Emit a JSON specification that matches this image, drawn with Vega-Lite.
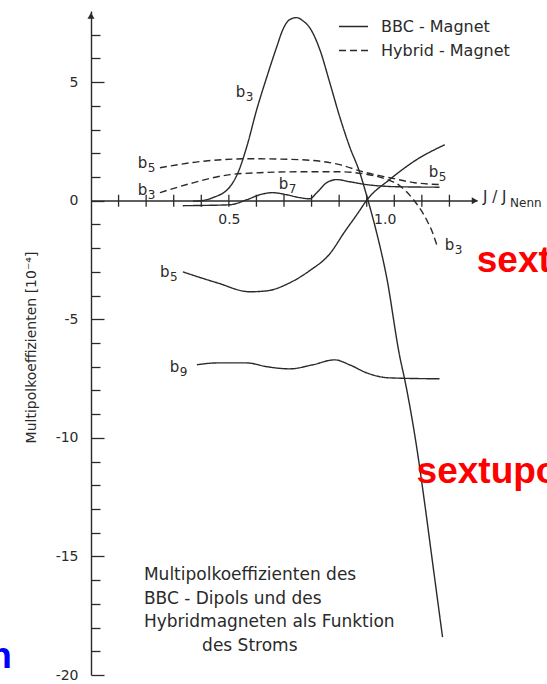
{
  "$schema": "https://vega.github.io/schema/vega-lite/v6.json",
  "width": 386,
  "height": 664,
  "autosize": {"type": "none"},
  "padding": {"left": 91, "top": 11, "right": 70, "bottom": 9},
  "background": "white",
  "config": {
    "view": {"stroke": null},
    "font": "DejaVu Sans",
    "axis": {"grid": false}
  },
  "datasets": {
    "curves": [
      {"curve": "b3 BBC", "magnet": "BBC - Magnet", "x": 0.37, "y": -0.02},
      {"curve": "b3 BBC", "magnet": "BBC - Magnet", "x": 0.40, "y": 0.0},
      {"curve": "b3 BBC", "magnet": "BBC - Magnet", "x": 0.442, "y": 0.13},
      {"curve": "b3 BBC", "magnet": "BBC - Magnet", "x": 0.504, "y": 0.59},
      {"curve": "b3 BBC", "magnet": "BBC - Magnet", "x": 0.533, "y": 1.18},
      {"curve": "b3 BBC", "magnet": "BBC - Magnet", "x": 0.565, "y": 2.28},
      {"curve": "b3 BBC", "magnet": "BBC - Magnet", "x": 0.601, "y": 3.84},
      {"curve": "b3 BBC", "magnet": "BBC - Magnet", "x": 0.638, "y": 5.23},
      {"curve": "b3 BBC", "magnet": "BBC - Magnet", "x": 0.674, "y": 6.50},
      {"curve": "b3 BBC", "magnet": "BBC - Magnet", "x": 0.696, "y": 7.22},
      {"curve": "b3 BBC", "magnet": "BBC - Magnet", "x": 0.721, "y": 7.64},
      {"curve": "b3 BBC", "magnet": "BBC - Magnet", "x": 0.746, "y": 7.72},
      {"curve": "b3 BBC", "magnet": "BBC - Magnet", "x": 0.768, "y": 7.59},
      {"curve": "b3 BBC", "magnet": "BBC - Magnet", "x": 0.793, "y": 7.30},
      {"curve": "b3 BBC", "magnet": "BBC - Magnet", "x": 0.830, "y": 6.37},
      {"curve": "b3 BBC", "magnet": "BBC - Magnet", "x": 0.866, "y": 4.98},
      {"curve": "b3 BBC", "magnet": "BBC - Magnet", "x": 0.902, "y": 3.54},
      {"curve": "b3 BBC", "magnet": "BBC - Magnet", "x": 0.938, "y": 2.28},
      {"curve": "b3 BBC", "magnet": "BBC - Magnet", "x": 0.975, "y": 1.18},
      {"curve": "b3 BBC", "magnet": "BBC - Magnet", "x": 1.004, "y": 0.04},
      {"curve": "b3 BBC", "magnet": "BBC - Magnet", "x": 1.036, "y": -1.35},
      {"curve": "b3 BBC", "magnet": "BBC - Magnet", "x": 1.072, "y": -3.21},
      {"curve": "b3 BBC", "magnet": "BBC - Magnet", "x": 1.12, "y": -6.58},
      {"curve": "b3 BBC", "magnet": "BBC - Magnet", "x": 1.138, "y": -7.55},
      {"curve": "b3 BBC", "magnet": "BBC - Magnet", "x": 1.181, "y": -10.38},
      {"curve": "b3 BBC", "magnet": "BBC - Magnet", "x": 1.21, "y": -12.74},
      {"curve": "b3 BBC", "magnet": "BBC - Magnet", "x": 1.239, "y": -15.27},
      {"curve": "b3 BBC", "magnet": "BBC - Magnet", "x": 1.275, "y": -18.4},

      {"curve": "b7 BBC", "magnet": "BBC - Magnet", "x": 0.333, "y": -0.21},
      {"curve": "b7 BBC", "magnet": "BBC - Magnet", "x": 0.40, "y": -0.20},
      {"curve": "b7 BBC", "magnet": "BBC - Magnet", "x": 0.504, "y": -0.17},
      {"curve": "b7 BBC", "magnet": "BBC - Magnet", "x": 0.565, "y": 0.04},
      {"curve": "b7 BBC", "magnet": "BBC - Magnet", "x": 0.612, "y": 0.25},
      {"curve": "b7 BBC", "magnet": "BBC - Magnet", "x": 0.659, "y": 0.34},
      {"curve": "b7 BBC", "magnet": "BBC - Magnet", "x": 0.71, "y": 0.25},
      {"curve": "b7 BBC", "magnet": "BBC - Magnet", "x": 0.757, "y": 0.13},
      {"curve": "b7 BBC", "magnet": "BBC - Magnet", "x": 0.793, "y": 0.08},
      {"curve": "b7 BBC", "magnet": "BBC - Magnet", "x": 0.819, "y": 0.34},
      {"curve": "b7 BBC", "magnet": "BBC - Magnet", "x": 0.855, "y": 0.76},
      {"curve": "b7 BBC", "magnet": "BBC - Magnet", "x": 0.891, "y": 0.89},
      {"curve": "b7 BBC", "magnet": "BBC - Magnet", "x": 0.938, "y": 0.80},
      {"curve": "b7 BBC", "magnet": "BBC - Magnet", "x": 1.0, "y": 0.68},
      {"curve": "b7 BBC", "magnet": "BBC - Magnet", "x": 1.109, "y": 0.59},
      {"curve": "b7 BBC", "magnet": "BBC - Magnet", "x": 1.264, "y": 0.57},

      {"curve": "b5 BBC", "magnet": "BBC - Magnet", "x": 0.333, "y": -3.0},
      {"curve": "b5 BBC", "magnet": "BBC - Magnet", "x": 0.457, "y": -3.46},
      {"curve": "b5 BBC", "magnet": "BBC - Magnet", "x": 0.576, "y": -3.84},
      {"curve": "b5 BBC", "magnet": "BBC - Magnet", "x": 0.638, "y": -3.80},
      {"curve": "b5 BBC", "magnet": "BBC - Magnet", "x": 0.721, "y": -3.46},
      {"curve": "b5 BBC", "magnet": "BBC - Magnet", "x": 0.793, "y": -2.95},
      {"curve": "b5 BBC", "magnet": "BBC - Magnet", "x": 0.866, "y": -2.24},
      {"curve": "b5 BBC", "magnet": "BBC - Magnet", "x": 0.92, "y": -1.31},
      {"curve": "b5 BBC", "magnet": "BBC - Magnet", "x": 0.964, "y": -0.59},
      {"curve": "b5 BBC", "magnet": "BBC - Magnet", "x": 1.004, "y": 0.08},
      {"curve": "b5 BBC", "magnet": "BBC - Magnet", "x": 1.083, "y": 0.89},
      {"curve": "b5 BBC", "magnet": "BBC - Magnet", "x": 1.181, "y": 1.73},
      {"curve": "b5 BBC", "magnet": "BBC - Magnet", "x": 1.283, "y": 2.36},

      {"curve": "b9 BBC", "magnet": "BBC - Magnet", "x": 0.384, "y": -6.92},
      {"curve": "b9 BBC", "magnet": "BBC - Magnet", "x": 0.457, "y": -6.84},
      {"curve": "b9 BBC", "magnet": "BBC - Magnet", "x": 0.565, "y": -6.84},
      {"curve": "b9 BBC", "magnet": "BBC - Magnet", "x": 0.638, "y": -7.0},
      {"curve": "b9 BBC", "magnet": "BBC - Magnet", "x": 0.721, "y": -7.09},
      {"curve": "b9 BBC", "magnet": "BBC - Magnet", "x": 0.804, "y": -6.92},
      {"curve": "b9 BBC", "magnet": "BBC - Magnet", "x": 0.884, "y": -6.71},
      {"curve": "b9 BBC", "magnet": "BBC - Magnet", "x": 0.938, "y": -6.92},
      {"curve": "b9 BBC", "magnet": "BBC - Magnet", "x": 1.0, "y": -7.26},
      {"curve": "b9 BBC", "magnet": "BBC - Magnet", "x": 1.083, "y": -7.47},
      {"curve": "b9 BBC", "magnet": "BBC - Magnet", "x": 1.264, "y": -7.51},

      {"curve": "b5 Hybrid", "magnet": "Hybrid - Magnet", "x": 0.25, "y": 1.39},
      {"curve": "b5 Hybrid", "magnet": "Hybrid - Magnet", "x": 0.395, "y": 1.65},
      {"curve": "b5 Hybrid", "magnet": "Hybrid - Magnet", "x": 0.576, "y": 1.77},
      {"curve": "b5 Hybrid", "magnet": "Hybrid - Magnet", "x": 0.757, "y": 1.73},
      {"curve": "b5 Hybrid", "magnet": "Hybrid - Magnet", "x": 0.902, "y": 1.52},
      {"curve": "b5 Hybrid", "magnet": "Hybrid - Magnet", "x": 0.986, "y": 1.22},
      {"curve": "b5 Hybrid", "magnet": "Hybrid - Magnet", "x": 1.083, "y": 0.97},
      {"curve": "b5 Hybrid", "magnet": "Hybrid - Magnet", "x": 1.174, "y": 0.76},
      {"curve": "b5 Hybrid", "magnet": "Hybrid - Magnet", "x": 1.264, "y": 0.68},

      {"curve": "b3 Hybrid", "magnet": "Hybrid - Magnet", "x": 0.25, "y": 0.34},
      {"curve": "b3 Hybrid", "magnet": "Hybrid - Magnet", "x": 0.359, "y": 0.72},
      {"curve": "b3 Hybrid", "magnet": "Hybrid - Magnet", "x": 0.504, "y": 1.10},
      {"curve": "b3 Hybrid", "magnet": "Hybrid - Magnet", "x": 0.612, "y": 1.18},
      {"curve": "b3 Hybrid", "magnet": "Hybrid - Magnet", "x": 0.757, "y": 1.22},
      {"curve": "b3 Hybrid", "magnet": "Hybrid - Magnet", "x": 0.902, "y": 1.22},
      {"curve": "b3 Hybrid", "magnet": "Hybrid - Magnet", "x": 0.986, "y": 1.14},
      {"curve": "b3 Hybrid", "magnet": "Hybrid - Magnet", "x": 1.065, "y": 0.93},
      {"curve": "b3 Hybrid", "magnet": "Hybrid - Magnet", "x": 1.12, "y": 0.63},
      {"curve": "b3 Hybrid", "magnet": "Hybrid - Magnet", "x": 1.167, "y": 0.08},
      {"curve": "b3 Hybrid", "magnet": "Hybrid - Magnet", "x": 1.217, "y": -0.80},
      {"curve": "b3 Hybrid", "magnet": "Hybrid - Magnet", "x": 1.239, "y": -1.35},
      {"curve": "b3 Hybrid", "magnet": "Hybrid - Magnet", "x": 1.254, "y": -1.86}
    ],
    "xTicks": [
      {"x": 0.1, "y": 0}, {"x": 0.2, "y": 0}, {"x": 0.3, "y": 0}, {"x": 0.4, "y": 0},
      {"x": 0.5, "y": 0}, {"x": 0.6, "y": 0}, {"x": 0.7, "y": 0}, {"x": 0.8, "y": 0},
      {"x": 0.9, "y": 0}, {"x": 1.0, "y": 0}, {"x": 1.1, "y": 0}, {"x": 1.2, "y": 0},
      {"x": 1.3, "y": 0}
    ],
    "curveLabels": [
      {"b": "b", "sub": "3", "x": 0.525, "y": 4.39},
      {"b": "b", "sub": "5", "x": 0.170, "y": 1.39},
      {"b": "b", "sub": "3", "x": 0.170, "y": 0.25},
      {"b": "b", "sub": "7", "x": 0.681, "y": 0.51},
      {"b": "b", "sub": "5", "x": 1.225, "y": 1.01},
      {"b": "b", "sub": "3", "x": 1.283, "y": -2.07},
      {"b": "b", "sub": "5", "x": 0.25, "y": -3.21},
      {"b": "b", "sub": "9", "x": 0.286, "y": -7.22}
    ],
    "caption": [
      {"line": "Multipolkoeffizienten des", "x": 0.192, "y": -16.0},
      {"line": "BBC - Dipols und des", "x": 0.192, "y": -16.99},
      {"line": "Hybridmagneten als Funktion", "x": 0.192, "y": -17.98},
      {"line": "des Stroms", "x": 0.403, "y": -18.97}
    ],
    "arrowX": [{"x": 1.392, "y": 0}],
    "arrowY": [{"x": 0, "y": 7.8}],
    "xTitle": [{"t": "J / J", "x": 1.422, "y": 0.15}],
    "xTitleSub": [{"t": "Nenn", "x": 1.52, "y": -0.27}],
    "redNotes": [
      {"t": "sextupole", "x": 1.399, "y": -3.0},
      {"t": "sextupole", "x": 1.181, "y": -11.9}
    ],
    "blueNotes": [{"t": "n", "x": -0.287, "y": -19.72}]
  },
  "encoding": {
    "x": {
      "field": "x",
      "type": "quantitative",
      "scale": {"domain": [0, 1.4], "nice": false, "zero": false},
      "axis": {
        "orient": "bottom",
        "offset": -474.5,
        "values": [0.5, 1.0],
        "domainColor": "#2a2a2a",
        "domainWidth": 1.4,
        "ticks": false,
        "tickSize": 0,
        "labelExpr": "format(datum.value, '.1f')",
        "labelFont": "DejaVu Sans",
        "labelFontSize": 14,
        "labelColor": "#2a2a2a",
        "labelPadding": 12,
        "labelBaseline": "top",
        "labelFlush": false,
        "labelOverlap": false,
        "labelOffset": {"condition": {"test": "datum.value == 1", "value": 18}, "value": 0},
        "title": null
      }
    },
    "y": {
      "field": "y",
      "type": "quantitative",
      "scale": {"domain": [-20, 8], "nice": false, "zero": false},
      "axis": {
        "orient": "left",
        "values": [-20, -19, -18, -17, -16, -15, -14, -13, -12, -11, -10, -9, -8, -7, -6, -5, -4, -3, -2, -1, 0, 1, 2, 3, 4, 5, 6, 7],
        "domainColor": "#2a2a2a",
        "domainWidth": 1.4,
        "tickColor": "#2a2a2a",
        "tickWidth": 1.3,
        "tickSize": {"condition": {"test": "datum.value % 5 === 0", "value": -13}, "value": -9},
        "labelExpr": "datum.value % 5 === 0 ? '' + datum.value : ''",
        "labelFont": "DejaVu Sans",
        "labelFontSize": 14,
        "labelColor": "#2a2a2a",
        "labelPadding": 26,
        "labelOverlap": false,
        "labelFlush": false,
        "title": "Multipolkoeffizienten  [10⁻⁴]",
        "titleFont": "DejaVu Sans",
        "titleFontSize": 14,
        "titleFontWeight": "normal",
        "titleColor": "#2a2a2a",
        "titleAngle": 270,
        "titleAlign": "center",
        "titleBaseline": "middle",
        "titleX": -60,
        "titleY": 336
      }
    }
  },
  "layer": [
    {
      "data": {"name": "curves"},
      "mark": {"type": "line", "interpolate": "monotone", "stroke": "#2a2a2a", "strokeWidth": 1.4},
      "encoding": {
        "detail": {"field": "curve", "type": "nominal"},
        "strokeDash": {
          "field": "magnet",
          "type": "nominal",
          "scale": {"domain": ["BBC - Magnet", "Hybrid - Magnet"], "range": [[1, 0], [7, 4]]},
          "legend": {
            "orient": "none",
            "legendX": 247,
            "legendY": 0,
            "title": null,
            "padding": 0,
            "symbolType": "stroke",
            "symbolSize": 841,
            "symbolStrokeWidth": 1.4,
            "symbolStrokeColor": "#2a2a2a",
            "labelFont": "DejaVu Sans",
            "labelFontSize": 16,
            "labelColor": "#2a2a2a",
            "labelOffset": 12,
            "rowPadding": -8
          }
        }
      }
    },
    {
      "data": {"name": "xTicks"},
      "mark": {"type": "tick", "orient": "vertical", "size": 12, "thickness": 1.3, "color": "#2a2a2a", "opacity": 1}
    },
    {
      "data": {"name": "curveLabels"},
      "mark": {"type": "text", "align": "left", "baseline": "alphabetic", "font": "DejaVu Sans", "fontSize": 15, "color": "#2a2a2a"},
      "encoding": {"text": {"field": "b"}}
    },
    {
      "data": {"name": "curveLabels"},
      "mark": {"type": "text", "align": "left", "baseline": "alphabetic", "font": "DejaVu Sans", "fontSize": 12, "dx": 10, "dy": 4, "color": "#2a2a2a"},
      "encoding": {"text": {"field": "sub"}}
    },
    {
      "data": {"name": "caption"},
      "mark": {"type": "text", "align": "left", "baseline": "alphabetic", "font": "DejaVu Sans", "fontSize": 17, "color": "#2a2a2a"},
      "encoding": {"text": {"field": "line"}}
    },
    {
      "data": {"name": "arrowX"},
      "mark": {"type": "point", "shape": "triangle-right", "filled": true, "size": 50, "color": "#2a2a2a", "opacity": 1}
    },
    {
      "data": {"name": "arrowY"},
      "mark": {"type": "point", "shape": "triangle-up", "filled": true, "size": 50, "color": "#2a2a2a", "opacity": 1}
    },
    {
      "data": {"name": "xTitle"},
      "mark": {"type": "text", "align": "left", "baseline": "middle", "font": "DejaVu Sans", "fontSize": 15, "color": "#2a2a2a"},
      "encoding": {"text": {"field": "t"}}
    },
    {
      "data": {"name": "xTitleSub"},
      "mark": {"type": "text", "align": "left", "baseline": "alphabetic", "font": "DejaVu Sans", "fontSize": 12, "color": "#2a2a2a"},
      "encoding": {"text": {"field": "t"}}
    },
    {
      "data": {"name": "redNotes"},
      "mark": {"type": "text", "align": "left", "baseline": "alphabetic", "font": "Liberation Sans", "fontWeight": "bold", "fontSize": 37, "color": "#ff0000"},
      "encoding": {"text": {"field": "t"}}
    },
    {
      "data": {"name": "blueNotes"},
      "mark": {"type": "text", "align": "right", "baseline": "alphabetic", "font": "Liberation Sans", "fontWeight": "bold", "fontSize": 37, "color": "#0000ff"},
      "encoding": {"text": {"field": "t"}}
    }
  ]
}
